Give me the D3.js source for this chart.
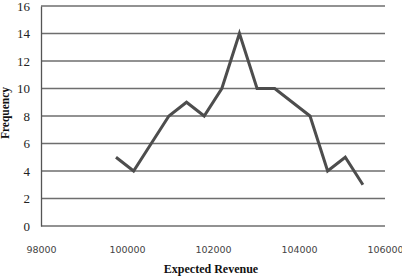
<!DOCTYPE html>
<html>
<head>
<meta charset="utf-8">
<script src="https://cdn.jsdelivr.net/npm/d3@7"></script>
<style>
  body { margin: 0; background: #fff; }
  svg { display: block; }
</style>
</head>
<body>
<div class="line-chart"></div>
<script>
(function() {

    // values
    var revenue = [99744, 100154, 100564, 100974, 101384, 101795, 102205, 102615,
                   103025, 103435, 103845, 104256, 104666, 105076, 105486];
    var frequency = [5, 4, 6, 8, 9, 8, 10, 14, 10, 10, 9, 8, 4, 5, 3];
    var xTicks = [98000, 100000, 102000, 104000, 106000];
    var yTicks = [0, 2, 4, 6, 8, 10, 12, 14, 16];

    var margin = { top: 6, right: 17, bottom: 50, left: 41 };
    var width = 402 - margin.left - margin.right,
        height = 276 - margin.top - margin.bottom;

    var svg = d3.select(".line-chart").append("svg")
        .attr("width", 402)
        .attr("height", 276)
        .append("g")
        .attr("transform", "translate(" + margin.left + "," + margin.top + ")");

    var x = d3.scaleLinear().domain([98000, 106000]).range([0, width]);
    var y = d3.scaleLinear().domain([0, 16]).range([height, 0]);

    // horizontal grid lines
    svg.selectAll(".grid")
        .data(yTicks)
        .enter().append("line")
        .attr("class", "grid")
        .attr("x1", 0)
        .attr("x2", width)
        .attr("y1", function(d) { return y(d); })
        .attr("y2", function(d) { return y(d); })
        .attr("stroke", "#6e6e6e")
        .attr("stroke-width", 1.3);

    // y axis
    var yAxis = d3.axisLeft(y).tickValues(yTicks).tickSize(0).tickPadding(11);
    var gy = svg.append("g").call(yAxis);
    gy.select(".domain").attr("stroke", "#555").attr("stroke-width", 1.3);
    gy.selectAll("text")
        .style("font-family", "'Liberation Serif', 'DejaVu Serif', serif")
        .style("font-size", "13px")
        .attr("fill", "#222");

    // x axis
    var xAxis = d3.axisBottom(x).tickValues(xTicks).tickSize(0).tickPadding(20)
        .tickFormat(d3.format("d"));
    var gx = svg.append("g")
        .attr("transform", "translate(0," + height + ")")
        .call(xAxis);
    gx.select(".domain").remove();
    gx.selectAll("text")
        .style("font-family", "'DejaVu Sans', sans-serif")
        .style("font-size", "9.5px")
        .attr("fill", "#444");

    // the line
    var points = revenue.map(function(d, i) { return { rev: d, freq: frequency[i] }; });
    var line = d3.line()
        .x(function(d) { return x(d.rev); })
        .y(function(d) { return y(d.freq); });

    svg.append("path")
        .datum(points)
        .attr("d", line)
        .attr("fill", "none")
        .attr("stroke", "#4d4d4d")
        .attr("stroke-width", 3)
        .attr("stroke-linejoin", "miter");

    // axis titles
    svg.append("text")
        .attr("x", x(102000) - 2)
        .attr("y", height + 47)
        .attr("text-anchor", "middle")
        .style("font-family", "'Liberation Serif', 'DejaVu Serif', serif")
        .style("font-weight", "bold")
        .style("font-size", "12px")
        .attr("fill", "#111")
        .text("Expected Revenue");

    svg.append("text")
        .attr("transform", "rotate(-90)")
        .attr("x", -(height / 2) + 3)
        .attr("y", -32)
        .attr("text-anchor", "middle")
        .style("font-family", "'Liberation Serif', 'DejaVu Serif', serif")
        .style("font-weight", "bold")
        .style("font-size", "11.5px")
        .attr("fill", "#111")
        .text("Frequency");
})();
</script>
</body>
</html>
